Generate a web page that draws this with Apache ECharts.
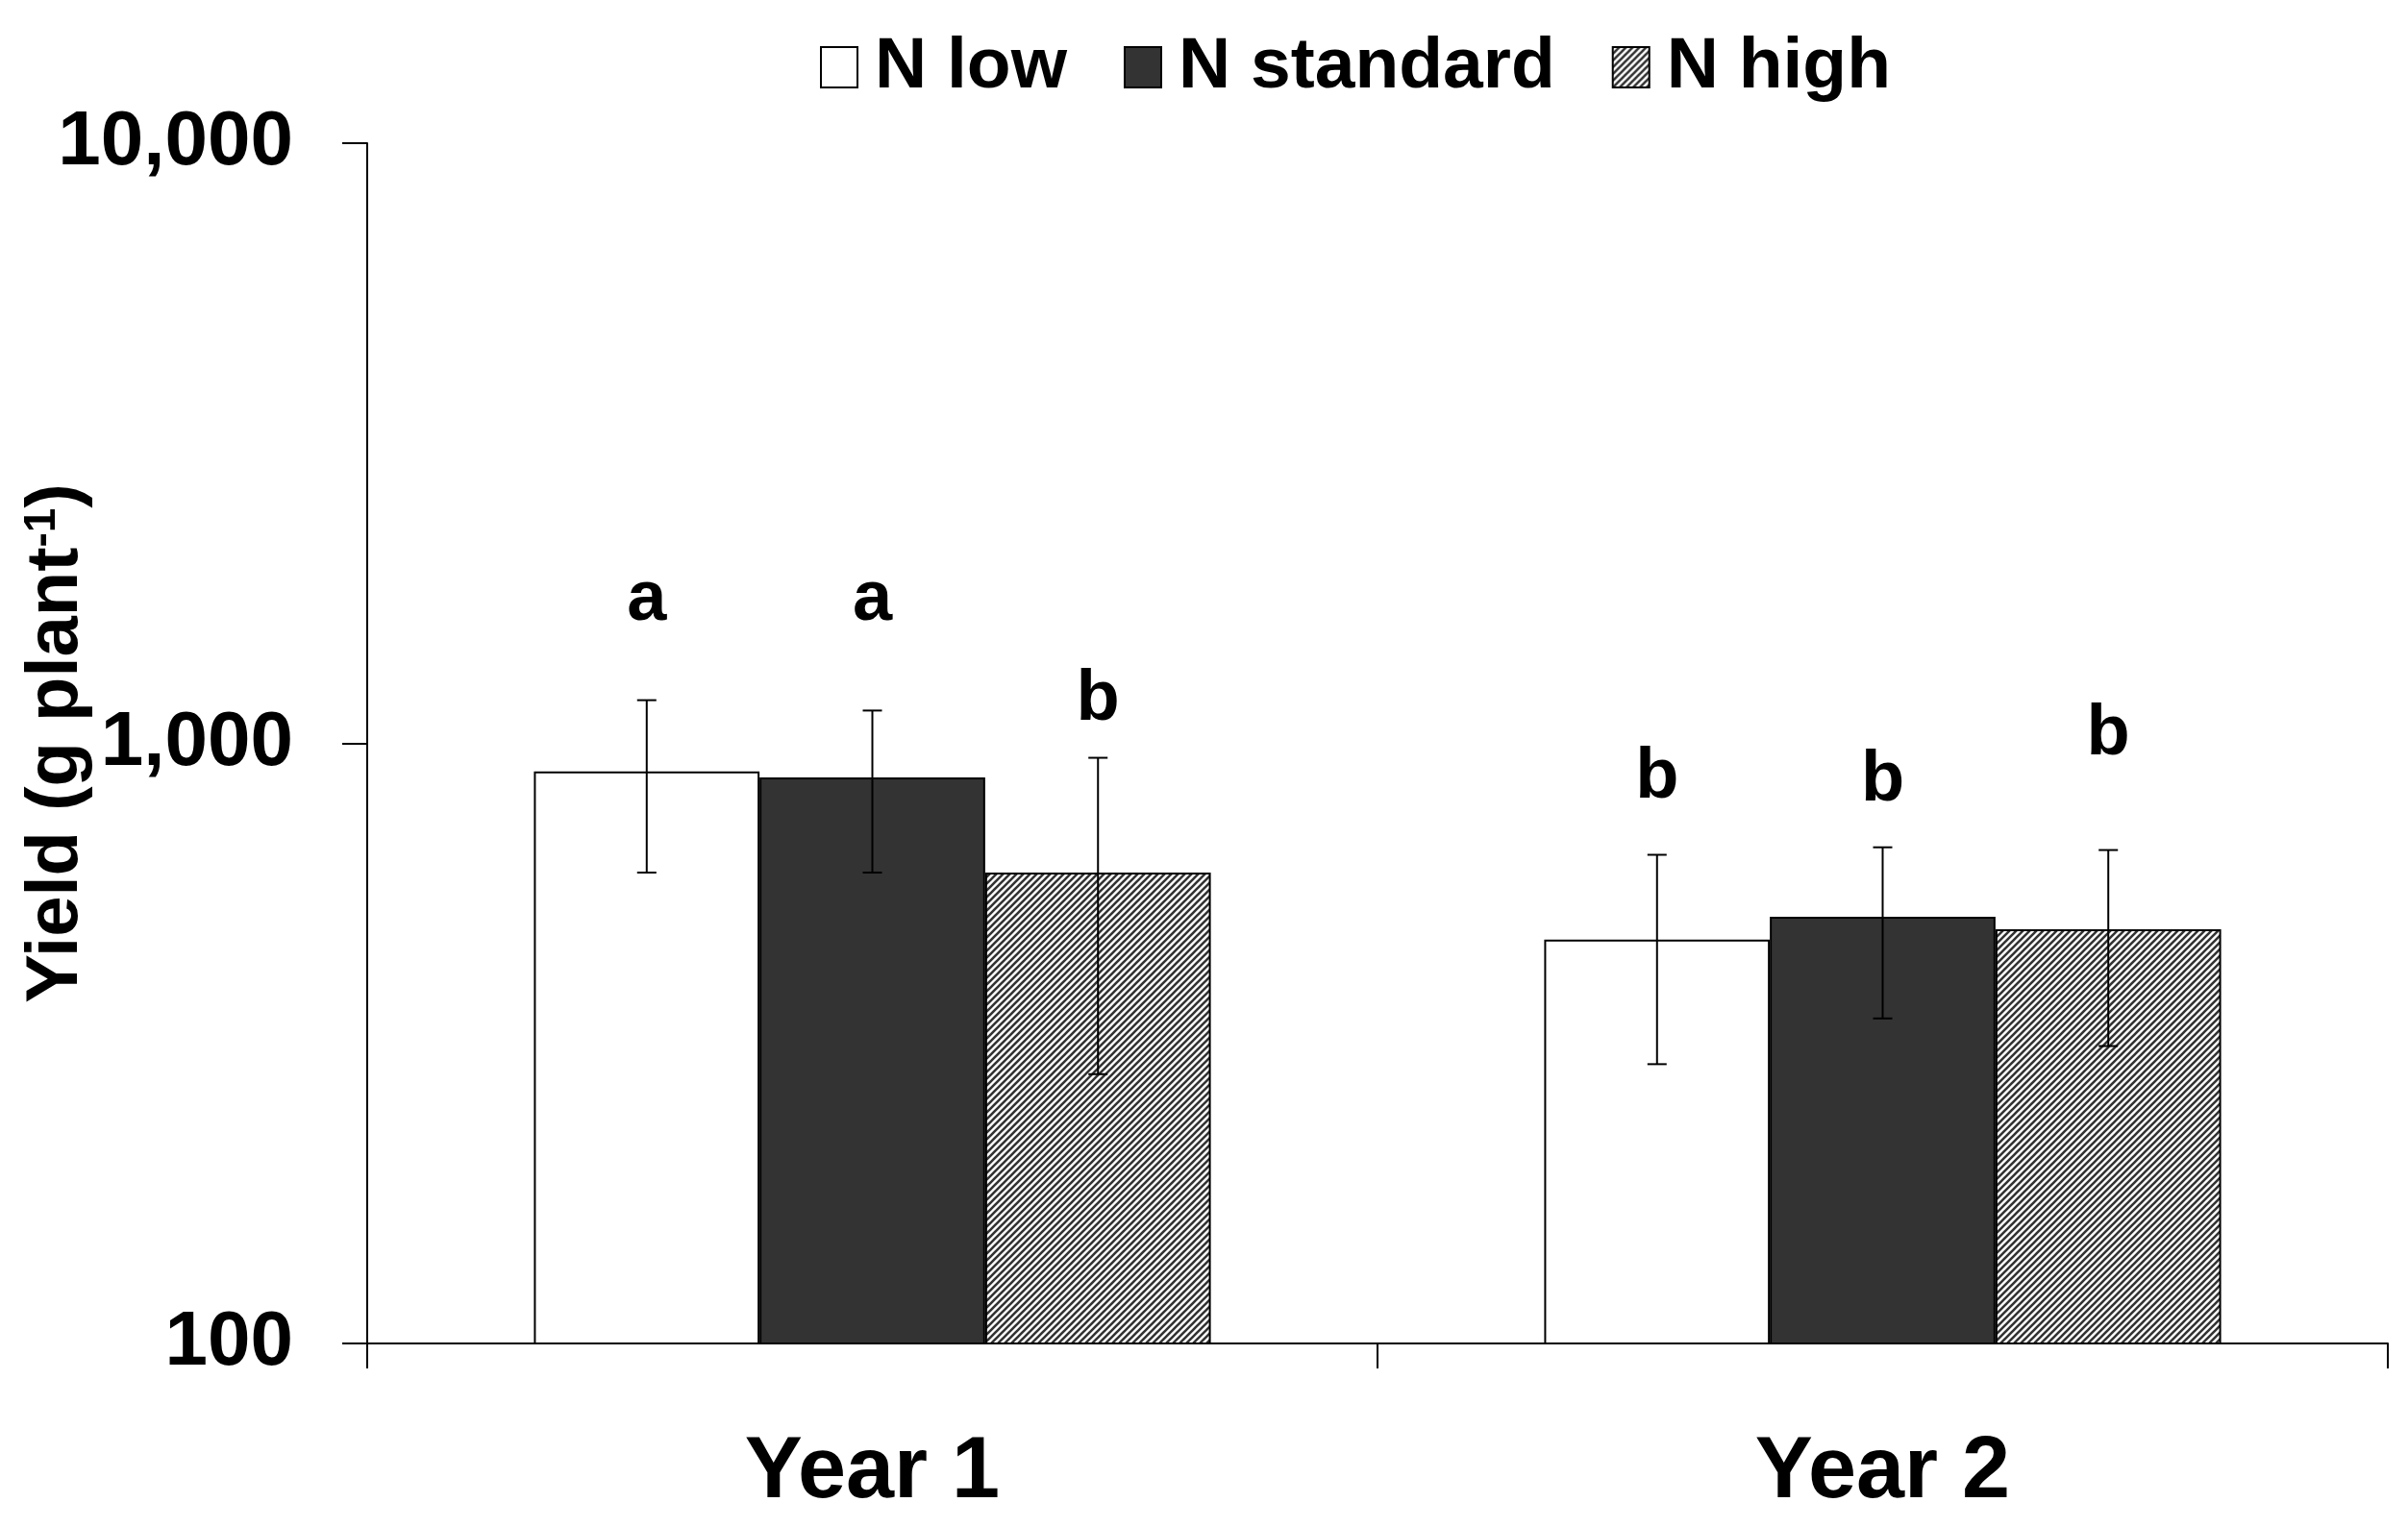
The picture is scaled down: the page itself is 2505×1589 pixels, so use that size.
<!DOCTYPE html>
<html>
<head>
<meta charset="utf-8">
<script src="https://cdn.jsdelivr.net/npm/echarts@6/dist/echarts.min.js"></script>
<style>
html,body{margin:0;padding:0;background:#fff;}
#chart{width:2505px;height:1589px;}
</style>
</head>
<body>
<div id="chart"></div>
<script>
// ---- data ----
const categories = ['Year 1', 'Year 2'];
const seriesNames = ['N low', 'N standard', 'N high'];
const yTicks = [100, 1000, 10000];

const nLow = [898, 471];
const nStandard = [877, 514];
const nHigh = [609, 490];

const errLowLower = [609, 292];
const errLowUpper = [1180, 652];
const errStdLower = [609, 348];
const errStdUpper = [1134, 671];
const errHighLower = [281, 313];
const errHighUpper = [946, 664];

const lettersLow = ['a', 'b'];
const lettersStd = ['a', 'b'];
const lettersHigh = ['b', 'b'];
const letterLevelLow = [1734, 875];
const letterLevelStd = [1734, 866];
const letterLevelHigh = [1180, 1033];

// ---- styling ----
const FONT = "'Liberation Sans', Arial, sans-serif";

function hatchPattern() {
  const s = 7;
  const c = document.createElement('canvas');
  c.width = s; c.height = s;
  const g = c.getContext('2d');
  g.fillStyle = '#ffffff';
  g.fillRect(0, 0, s, s);
  g.strokeStyle = '#333333';
  g.lineWidth = 2.6;
  g.beginPath();
  g.moveTo(-1, s + 1); g.lineTo(s + 1, -1);
  g.moveTo(-1, 1); g.lineTo(1, -1);
  g.moveTo(s - 1, s + 1); g.lineTo(s + 1, s - 1);
  g.stroke();
  return { image: c, repeat: 'repeat' };
}

const fills = ['#ffffff', '#333333', hatchPattern()];
const barValues = [nLow, nStandard, nHigh];
const errLower = [errLowLower, errStdLower, errHighLower];
const errUpper = [errLowUpper, errStdUpper, errHighUpper];
const letters = [lettersLow, lettersStd, lettersHigh];
const letterLevels = [letterLevelLow, letterLevelStd, letterLevelHigh];

const CAT_GAP = 0.33;

const series = [];
seriesNames.forEach((name, i) => {
  series.push({
    name: name,
    type: 'bar',
    data: barValues[i],
    barGap: '0%',
    barCategoryGap: (CAT_GAP * 100) + '%',
    itemStyle: { color: fills[i], borderColor: '#000', borderWidth: 2 },
    emphasis: { disabled: true },
    z: 2
  });
});
seriesNames.forEach((name, i) => {
  series.push({
    name: 'err' + i,
    type: 'custom',
    silent: true,
    z: 5,
    data: categories.map((c, j) => [j, errLower[i][j], errUpper[i][j], letterLevels[i][j]]),
    renderItem: function (params, api) {
      const j = api.value(0);
      const catW = api.size([1, 0])[0];
      const barW = catW * (1 - CAT_GAP) / 3;
      const cx = api.coord([j, 1000])[0] + (i - 1) * barW;
      const yLo = api.coord([j, api.value(1)])[1];
      const yHi = api.coord([j, api.value(2)])[1];
      const yL = api.coord([j, api.value(3)])[1];
      const cap = 10;
      const ls = { stroke: '#000', lineWidth: 2 };
      return {
        type: 'group',
        children: [
          { type: 'line', shape: { x1: cx, y1: yLo, x2: cx, y2: yHi }, style: ls },
          { type: 'line', shape: { x1: cx - cap, y1: yHi, x2: cx + cap, y2: yHi }, style: ls },
          { type: 'line', shape: { x1: cx - cap, y1: yLo, x2: cx + cap, y2: yLo }, style: ls },
          { type: 'text', x: cx, y: yL, style: {
              text: letters[i][j], fill: '#000', fontSize: 74, fontWeight: 'bold',
              fontFamily: FONT, align: 'center', verticalAlign: 'middle' } }
        ]
      };
    }
  });
});

const chart = echarts.init(document.getElementById('chart'), null, { renderer: 'canvas' });
chart.setOption({
  animation: false,
  backgroundColor: '#ffffff',
  legend: {
    data: seriesNames,
    left: 848,
    top: 25,
    icon: 'rect',
    itemWidth: 38,
    itemHeight: 42,
    itemGap: 59,
    selectedMode: false,
    textStyle: { fontSize: 75, fontWeight: 'bold', fontFamily: FONT, color: '#000',
                 lineHeight: 80, padding: [0, 0, 0, 13] }
  },
  grid: { left: 382, right: 21, top: 149, bottom: 191, containLabel: false, outerBoundsMode: 'none' },
  xAxis: {
    type: 'category',
    data: categories,
    boundaryGap: true,
    axisLine: { show: true, lineStyle: { color: '#000', width: 2 } },
    axisTick: { show: true, length: 26, inside: false, alignWithLabel: false,
                lineStyle: { color: '#000', width: 2 } },
    axisLabel: { fontSize: 90, fontWeight: 'bold', fontFamily: FONT, color: '#000', margin: 90 },
    splitLine: { show: false }
  },
  yAxis: {
    type: 'log',
    logBase: 10,
    min: yTicks[0],
    max: yTicks[yTicks.length - 1],
    name: 'Yield (g plant{sup|-1})',
    nameLocation: 'middle',
    nameRotate: 90,
    nameGap: 285,
    nameMoveOverlap: false,
    nameTextStyle: {
      fontSize: 76, fontWeight: 'bold', fontFamily: FONT, color: '#000',
      rich: {
        sup: { fontSize: 46, fontWeight: 'bold', fontFamily: FONT, color: '#000', verticalAlign: 'top' }
      }
    },
    axisLine: { show: true, lineStyle: { color: '#000', width: 2 } },
    axisTick: { show: true, length: 26, inside: false, lineStyle: { color: '#000', width: 2 } },
    minorTick: { show: false },
    splitLine: { show: false },
    axisLabel: {
      fontSize: 80, fontWeight: 'bold', fontFamily: FONT, color: '#000', margin: 77,
      formatter: v => Number(v).toLocaleString('en-US')
    }
  },
  series: series
});
</script>
</body>
</html>
